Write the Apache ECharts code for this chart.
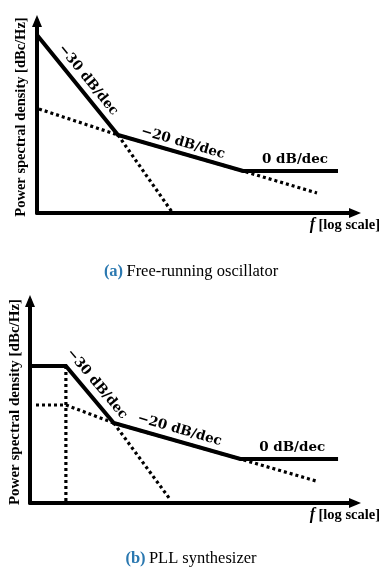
<!DOCTYPE html>
<html>
<head>
<meta charset="utf-8">
<script src="https://cdn.jsdelivr.net/npm/echarts@6/dist/echarts.min.js"></script>
<style>html,body{margin:0;padding:0;background:#fff}#c{width:382px;height:569px}</style>
</head>
<body>
<div id="c"></div>
<script>
// ---- Data (abstract units: x = log-frequency, y = dB level) ----
// (a) Free-running oscillator
const aSolid   = [[0,178],[81,78],[206,42],[301,42]];
const aDotted1 = [[2,104],[81,78],[206,42],[280,20]];
const aDotted2 = [[81,78],[135,1]];
const aLabels  = [
  {text:'\u221230 dB/dec', pos:[51,133], rot:-51},
  {text:'\u221220 dB/dec', pos:[146,70], rot:-16},
  {text:'0 dB/dec',        pos:[258,54], rot:0}
];
// (b) PLL synthesizer
const bSolid    = [[0,137],[36,137],[84,80],[211,44],[309,44]];
const bDotted1  = [[6,98],[36,98],[84,80],[211,44],[287,22]];
const bDotted2  = [[84,80],[141,3]];
const bVertical = [[36,137],[36,0]];
const bLabels   = [
  {text:'\u221230 dB/dec', pos:[67,119], rot:-50},
  {text:'\u221220 dB/dec', pos:[150,73], rot:-16},
  {text:'0 dB/dec',        pos:[263,56], rot:0}
];
const yName = 'Power spectral density [dBc/Hz]';
const captionA = ['(a)', 'Free-running oscillator'];
const captionB = ['(b)', 'PLL synthesizer'];

const chart = echarts.init(document.getElementById('c'), null, {renderer:'canvas'});
const lblFont = 'DejaVu Serif';
function axisX(idx, max){
  return {gridIndex:idx, type:'value', min:0, max:max,
    axisLine:{show:true, onZero:false, symbol:['none','triangle'], symbolSize:[10,12], lineStyle:{color:'#000', width:4}},
    axisTick:{show:false}, axisLabel:{show:false}, splitLine:{show:false}};
}
function axisY(idx, max, fs, gap){
  return {gridIndex:idx, type:'value', min:0, max:max,
    name:yName, nameLocation:'middle', nameRotate:90, nameGap:gap,
    nameTextStyle:{fontFamily:'Liberation Serif', fontWeight:'bold', fontSize:fs, color:'#000'},
    axisLine:{show:true, onZero:false, symbol:['none','triangle'], symbolSize:[10,12], lineStyle:{color:'#000', width:4}},
    axisTick:{show:false}, axisLabel:{show:false}, splitLine:{show:false}};
}
function line(idx, data, dotted){
  return {type:'line', xAxisIndex:idx, yAxisIndex:idx, data:data, symbol:'none', silent:true,
    z: dotted ? 2 : 3,
    lineStyle: dotted ? {color:'#000', width:3.2, type:[3,3], cap:'butt'} : {color:'#000', width:4, cap:'butt', join:'miter'}};
}
function labels(idx, arr){
  return {type:'scatter', xAxisIndex:idx, yAxisIndex:idx, symbolSize:0, silent:true, z:5,
    itemStyle:{opacity:1},
    data: arr.map(l => ({value:l.pos, label:{show:true, formatter:l.text, rotate:l.rot, position:'inside',
      align:'center', verticalAlign:'middle', fontFamily:lblFont, fontWeight:'bold', fontSize:13.5, color:'#000', opacity:1,
      textBorderWidth:0}}))};
}
const fStyle = {
  i:{fontFamily:'Liberation Serif', fontStyle:'italic', fontWeight:'bold', fontSize:16, fill:'#000'},
  n:{fontFamily:'Liberation Serif', fontWeight:'bold', fontSize:14.5, fill:'#000'}};
const capStyle = {
  b:{fontFamily:'Liberation Serif', fontWeight:'bold', fontSize:16.5, fill:'#2a78b0'},
  r:{fontFamily:'Liberation Serif', fontSize:16.5, fill:'#000'}};
const option = {
  animation:false,
  backgroundColor:'#fff',
  grid:[
    {left:37, right:27, top:21, bottom:356},
    {left:29, right:27, top:301, bottom:66}
  ],
  xAxis:[axisX(0,318), axisX(1,326)],
  yAxis:[axisY(0,192,14.5,8), axisY(1,202,15,7)],
  series:[
    line(0,aDotted1,true), line(0,aDotted2,true), line(0,aSolid,false), labels(0,aLabels),
    line(1,bDotted1,true), line(1,bDotted2,true), line(1,bVertical,true), line(1,bSolid,false), labels(1,bLabels)
  ],
  graphic:[
    {type:'text', right:2, top:217, style:{text:'{i|f} {n|[log scale]}', rich:fStyle}},
    {type:'text', right:2, top:507, style:{text:'{i|f} {n|[log scale]}', rich:fStyle}},
    {type:'text', left:'center', top:263, style:{text:'{b|'+captionA[0]+'} {r|'+captionA[1]+'}', rich:capStyle}},
    {type:'text', left:'center', top:550, style:{text:'{b|'+captionB[0]+'} {r|'+captionB[1]+'}', rich:capStyle}}
  ]
};
chart.setOption(option);
</script>
</body>
</html>
